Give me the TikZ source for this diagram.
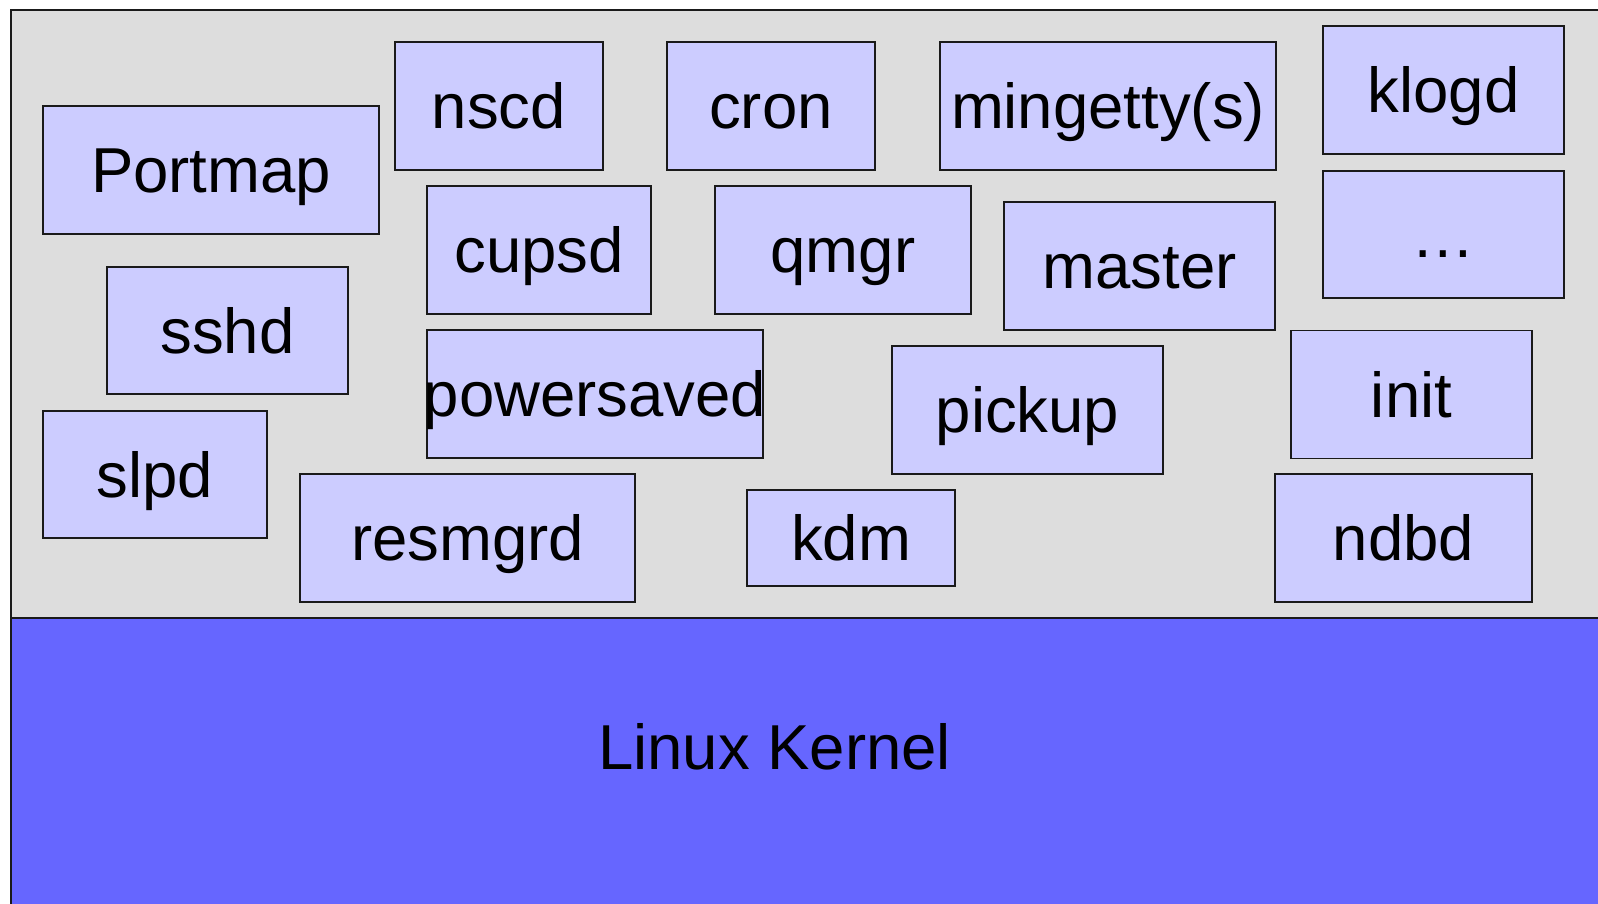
\documentclass[tikz,border=0pt]{standalone}
\usepackage{fontspec}
\setmainfont{Liberation Sans}
\definecolor{bggray}{HTML}{DDDDDD}
\definecolor{boxfill}{HTML}{CCCCFF}
\definecolor{kernelblue}{HTML}{6666FF}
\definecolor{edge}{HTML}{1A1A1A}
\tikzset{
  proc/.style={draw=edge, line width=1.6pt, fill=boxfill, inner sep=0pt,
    text height=45.5pt, text depth=0pt,
    font=\fontsize{63.5}{70}\selectfont},
  area/.style={draw=edge, line width=1.6pt},
  bigtext/.style={inner sep=0pt, text height=45.5pt, text depth=0pt,
    font=\fontsize{63.5}{70}\selectfont}
}
\begin{document}
\begin{tikzpicture}[x=1pt,y=-1pt]
\useasboundingbox (0,0) rectangle (1598,903);
\clip (0,0) rectangle (1598,903);
\path[area, fill=bggray] (11,10) rectangle (1620,618);
\path[area, fill=kernelblue] (11,618) rectangle (1620,930);
\node[bigtext] (kernel) at (774.5,747) {Linux Kernel};

\node[proc, minimum width=336pt, minimum height=128pt] (portmap) at (211,170) {Portmap};
\node[proc, minimum width=208pt, minimum height=128pt] (nscd) at (499,106) {nscd};
\node[proc, minimum width=208pt, minimum height=128pt] (cron) at (771,106) {cron};
\node[proc, minimum width=336pt, minimum height=128pt] (mingetty) at (1108,106) {\makebox[0pt]{mingetty(s)}};
\node[proc, minimum width=241pt, minimum height=128pt] (klogd) at (1443.5,90) {klogd};
\node[proc, minimum width=241pt, minimum height=127pt] (dots) at (1443.5,234.5) {…};
\node[proc, minimum width=224pt, minimum height=128pt] (cupsd) at (539,250) {cupsd};
\node[proc, minimum width=256pt, minimum height=128pt] (qmgr) at (843,250) {qmgr};
\node[proc, minimum width=271pt, minimum height=128pt] (master) at (1139.5,266) {master};
\node[proc, minimum width=241pt, minimum height=127pt] (sshd) at (227.5,330.5) {sshd};
\node[proc, minimum width=336pt, minimum height=128pt] (powersaved) at (595,394) {\makebox[0pt]{powersaved}};
\node[proc, minimum width=271pt, minimum height=128pt] (pickup) at (1027.5,410) {pickup};
\node[proc, minimum width=241pt, minimum height=128pt] (init) at (1411.5,394.5) {init};
\node[proc, minimum width=224pt, minimum height=127pt] (slpd) at (155,474.5) {slpd};
\node[proc, minimum width=335pt, minimum height=128pt] (resmgrd) at (467.5,538) {resmgrd};
\node[proc, minimum width=208pt, minimum height=96pt] (kdm) at (851,538) {kdm};
\node[proc, minimum width=257pt, minimum height=128pt] (ndbd) at (1403.5,538) {ndbd};
\end{tikzpicture}
\end{document}
